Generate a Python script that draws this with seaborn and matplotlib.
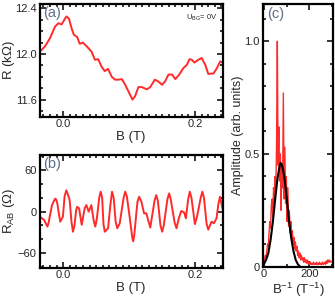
import numpy as np
import pandas as pd
import matplotlib
matplotlib.use("Agg")
import matplotlib.pyplot as plt
import seaborn as sns
from matplotlib.ticker import MultipleLocator, FixedLocator

# panel (a): magnetoresistance R(B)
b_a = [-0.0365, -0.028, -0.020, -0.0126, -0.0076, -0.0025, 0.0026, 0.005, 0.0087,
       0.0127, 0.016, 0.021, 0.025, 0.030, 0.036, 0.043, 0.048, 0.053, 0.058, 0.063,
       0.068, 0.0736, 0.0786, 0.0836, 0.0888, 0.094, 0.099, 0.105, 0.109, 0.114,
       0.119, 0.127, 0.132, 0.139, 0.144, 0.150, 0.1545, 0.1596, 0.165, 0.170,
       0.176, 0.182, 0.1875, 0.1915, 0.195, 0.199, 0.205, 0.210, 0.2155, 0.220,
       0.228, 0.233, 0.238, 0.242]
r_a = [12.015, 12.065, 12.14, 12.24, 12.27, 12.26, 12.31, 12.33, 12.31, 12.225,
       12.17, 12.15, 12.09, 12.10, 12.065, 12.02, 11.95, 11.955, 11.89, 11.85,
       11.87, 11.80, 11.775, 11.775, 11.78, 11.73, 11.67, 11.60, 11.63, 11.71,
       11.71, 11.69, 11.71, 11.775, 11.76, 11.73, 11.76, 11.82, 11.82, 11.78,
       11.82, 11.875, 11.905, 11.955, 11.95, 11.925, 11.95, 11.965, 11.905, 11.825,
       11.83, 11.875, 11.935, 11.925]

# panel (b): AB oscillation part R_AB(B)
b_b = [-0.036, -0.029, -0.026, -0.024, -0.022, -0.0195, -0.017, -0.0135, -0.012,
       -0.0105, -0.009, -0.0065, -0.0045, -0.0005, 0.002, 0.0046, 0.007, 0.0097,
       0.0125, 0.0147, 0.017, 0.0195, 0.021, 0.024, 0.028, 0.0325, 0.035, 0.0386,
       0.0426, 0.046, 0.0486, 0.051, 0.0545, 0.0568, 0.059, 0.061, 0.063, 0.068,
       0.0715, 0.074, 0.0765, 0.0795, 0.082, 0.0857, 0.0915, 0.094, 0.0965, 0.101,
       0.1045, 0.106, 0.1075, 0.1125, 0.115, 0.1186, 0.1226, 0.126, 0.132, 0.1385,
       0.141, 0.1435, 0.1475, 0.150, 0.1525, 0.158, 0.1606, 0.163, 0.169, 0.1718,
       0.1753, 0.179, 0.1834, 0.186, 0.1895, 0.192, 0.1945, 0.1997, 0.203, 0.2085,
       0.211, 0.2135, 0.2175, 0.220, 0.225, 0.2286, 0.2325, 0.2355, 0.2377, 0.2427]
r_b = [-7, -12, -18, -21.6, -15, -2, 9.6, 17, 19, 17, 12, -4, -14.4, -7, 22, 31,
       25, 17, -15, -29, -20, 2, 7, 5, -19, 5, 9.6, 0, 9.6, -12, -21.6, -10, 20,
       29, 20, -18, -29, -24, 10, 29, 20, -15, -24, -16.7, 20, 29, 22, -9.6, -36,
       -43, -36, 14, 21.6, 14.4, -2.4, -2.4, -23, 16, 24, 16, -20, -29, -20, 18,
       26.5, 18, -16, -24, -9.6, 1, -1, -9.6, 18, 29, 20, -18, -7, 20, 29, 20,
       -18, -26, -14.4, -16.7, -9.6, 12, 21.6, 0]

# panel (c): FFT amplitude vs B^-1
binv = np.arange(0, 300, 3.3)
amp = [0.02, 0.03, 0.05, 0.04, 0.07, 0.10, 0.09, 0.15, 0.20, 0.17,
       0.27, 0.30, 0.22, 0.35, 0.28, 0.40, 0.33, 0.55, 1.00, 0.45,
       0.62, 0.38, 0.50, 0.25, 0.45, 0.35, 0.77, 0.30, 0.53, 0.28,
       0.40, 0.20, 0.35, 0.18, 0.25, 0.15, 0.20, 0.12, 0.16, 0.10,
       0.13, 0.08, 0.11, 0.07, 0.09, 0.05, 0.07, 0.04, 0.06, 0.03,
       0.05, 0.03, 0.04, 0.02, 0.04, 0.02, 0.03, 0.015, 0.03, 0.015,
       0.02, 0.01, 0.02, 0.01, 0.015, 0.01, 0.02, 0.01, 0.015, 0.01,
       0.02, 0.01, 0.015, 0.01, 0.02, 0.01, 0.015, 0.01, 0.02, 0.01,
       0.015, 0.02, 0.01, 0.025, 0.015, 0.03, 0.02, 0.03, 0.02, 0.025,
       0.02]
# gaussian fit curve
fit_x = [0, 10, 20, 30, 40, 50, 60, 70, 74, 80, 90, 100, 110, 120, 130, 140, 150, 160]
fit_y = [0.01, 0.03, 0.06, 0.12, 0.20, 0.30, 0.39, 0.45, 0.46, 0.45, 0.40, 0.31,
         0.21, 0.13, 0.07, 0.03, 0.01, 0.0]

sns.set_style("ticks")
plt.rcParams['font.family'] = ['Liberation Sans', 'DejaVu Sans']
plt.rcParams['mathtext.fontset'] = 'custom'
plt.rcParams['mathtext.rm'] = 'Liberation Sans'
plt.rcParams['mathtext.it'] = 'Liberation Sans'

red = '#ff2a2a'
lab_col = '#5f7088'

fig = plt.figure(figsize=(3.35, 3.0), dpi=100)
ax_a = fig.add_axes([0.118, 0.611, 0.547, 0.376])
ax_b = fig.add_axes([0.118, 0.108, 0.547, 0.375])
ax_c = fig.add_axes([0.784, 0.111, 0.211, 0.876])


def style(ax):
    for s in ax.spines.values():
        s.set_linewidth(1.6)
        s.set_color('black')
    ax.tick_params(which='both', direction='in', top=True, right=True,
                   width=1.1, color='black', labelsize=8, pad=2)
    ax.tick_params(which='major', length=4)
    ax.tick_params(which='minor', length=2.5)


sns.lineplot(x=b_a, y=r_a, ax=ax_a, color=red, lw=1.4, estimator=None, sort=False)
ax_a.set_xlim(-0.036, 0.242)
ax_a.set_ylim(11.45, 12.44)
ax_a.xaxis.set_major_locator(FixedLocator([0.0, 0.2]))
ax_a.xaxis.set_minor_locator(MultipleLocator(0.01))
ax_a.yaxis.set_major_locator(FixedLocator([11.6, 12.0, 12.4]))
ax_a.yaxis.set_minor_locator(MultipleLocator(0.1))
ax_a.set_xticklabels(['0.0', '0.2'])
ax_a.set_xlabel('B (T)', fontsize=9.5, labelpad=1)
ax_a.set_ylabel('R (k$\\Omega$)', fontsize=9.5)
ax_a.yaxis.set_label_coords(-0.125, 0.5)
ax_a.text(0.02, 0.98, '(a)', transform=ax_a.transAxes, va='top', ha='left',
          fontsize=10.5, color=lab_col)
ax_a.text(0.80, 0.88, 'U$_{BG}$= 0V', transform=ax_a.transAxes, va='center',
          ha='left', fontsize=5.5)
style(ax_a)

sns.lineplot(x=b_b, y=r_b, ax=ax_b, color=red, lw=1.4, estimator=None, sort=False)
ax_b.set_xlim(-0.036, 0.242)
ax_b.set_ylim(-81, 82)
ax_b.xaxis.set_major_locator(FixedLocator([0.0, 0.2]))
ax_b.xaxis.set_minor_locator(MultipleLocator(0.01))
ax_b.yaxis.set_major_locator(FixedLocator([-60, 0, 60]))
ax_b.yaxis.set_minor_locator(MultipleLocator(20))
ax_b.set_xticklabels(['0.0', '0.2'])
ax_b.set_xlabel('B (T)', fontsize=9.5, labelpad=1)
ax_b.set_ylabel('R$_{AB}$ ($\\Omega$)', fontsize=9.5)
ax_b.yaxis.set_label_coords(-0.125, 0.5)
ax_b.text(0.02, 0.98, '(b)', transform=ax_b.transAxes, va='top', ha='left',
          fontsize=10.5, color=lab_col)
style(ax_b)

sns.lineplot(x=binv, y=amp, ax=ax_c, color=red, lw=1.0, estimator=None, sort=False)
sns.lineplot(x=fit_x, y=fit_y, ax=ax_c, color='black', lw=1.5, estimator=None, sort=False)
ax_c.set_xlim(-5, 305)
ax_c.set_ylim(0, 1.165)
ax_c.xaxis.set_major_locator(FixedLocator([0, 200]))
ax_c.xaxis.set_minor_locator(MultipleLocator(100))
ax_c.yaxis.set_major_locator(FixedLocator([0, 0.5, 1.0]))
ax_c.yaxis.set_minor_locator(MultipleLocator(0.1))
ax_c.set_yticklabels(['0', '0.5', '1.0'])
ax_c.set_xlabel('B$^{-1}$ (T$^{-1}$)', fontsize=9.5, labelpad=1)
ax_c.set_ylabel('Amplitude (arb. units)', fontsize=9)
ax_c.yaxis.set_label_coords(-0.26, 0.5)
ax_c.text(0.06, 0.99, '(c)', transform=ax_c.transAxes, va='top', ha='left',
          fontsize=10.5, color=lab_col)
style(ax_c)

fig.savefig('out.png', dpi=100)
